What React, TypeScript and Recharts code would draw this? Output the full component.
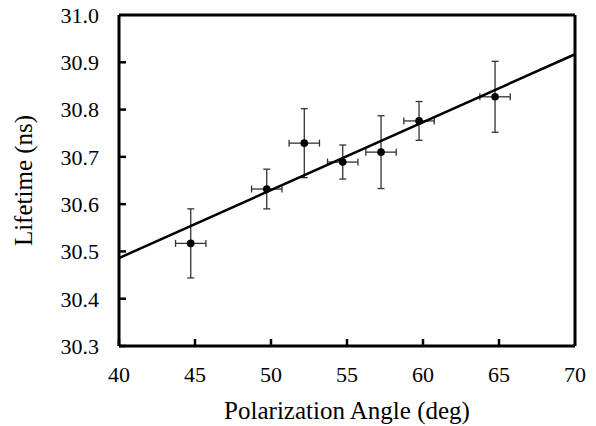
import React from 'react';
import { ScatterChart, Scatter, XAxis, YAxis, ErrorBar, ReferenceLine } from 'recharts';

// measured points
const angles = [44.72, 49.72, 52.19, 54.72, 57.24, 59.74, 64.74];
const angleErr = [1.0, 1.0, 1.0, 1.0, 1.0, 1.0, 1.0];
const lifetimes = [30.517, 30.632, 30.729, 30.689, 30.71, 30.776, 30.827];
const lifetimeErr = [0.073, 0.042, 0.073, 0.036, 0.077, 0.041, 0.075];

// linear fit, read at the plot edges
const fitAngles = [40, 70];
const fitLifetimes = [30.486, 30.917];

const xTicks = [40, 45, 50, 55, 60, 65, 70];
const yTicks = [30.3, 30.4, 30.5, 30.6, 30.7, 30.8, 30.9, 31.0];

const points = angles.map((a, i) => ({
  angle: a,
  lifetime: lifetimes[i],
  xerr: angleErr[i],
  yerr: lifetimeErr[i],
}));
const fit = fitAngles.map((a, i) => ({ angle: a, lifetime: fitLifetimes[i] }));

const FONT = 'Liberation Serif, Times New Roman, serif';
const GAP = 20;
const txt = { fontFamily: FONT, fill: '#000' };

const XTick = (props: any) => {
  const { x, y, payload } = props;
  const ay = y - GAP;
  return (
    <g>
      {payload.value !== 70 && (
        <line x1={x} y1={ay} x2={x} y2={ay - 7} stroke="#000" strokeWidth={2.5} />
      )}
      <text x={x} y={y} dy="0.71em" textAnchor="middle" style={{ ...txt, fontSize: 22 }}>
        {payload.value}
      </text>
    </g>
  );
};

const YTick = (props: any) => {
  const { x, y, payload } = props;
  const ax = x + GAP;
  return (
    <g>
      {payload.value !== 31.0 && (
        <line x1={ax} y1={y} x2={ax + 7} y2={y} stroke="#000" strokeWidth={2.5} />
      )}
      <text x={x} y={y} dy="0.355em" textAnchor="end" style={{ ...txt, fontSize: 22 }}>
        {payload.value.toFixed(1)}
      </text>
    </g>
  );
};

const Dot = (props: any) => <circle cx={props.cx} cy={props.cy} r={3.8} fill="#000" />;
const NoDot = () => <g />;

export default function App() {
  return (
    <div style={{ position: 'absolute', left: 0, top: 0, background: '#fff', fontFamily: FONT }}>
      <ScatterChart width={596} height={426} margin={{ top: 15, right: 21, bottom: 0, left: 0 }}>
        <XAxis
          type="number"
          dataKey="angle"
          domain={[40, 70]}
          ticks={xTicks}
          height={80}
          tickSize={0}
          tickMargin={GAP}
          tick={<XTick />}
          axisLine={{ stroke: '#000', strokeWidth: 3 }}
          tickLine={false}
          label={{
            content: (p: any) => {
              const vb = p.viewBox;
              return (
                <text x={vb.x + vb.width / 2} y={419} textAnchor="middle" style={{ ...txt, fontSize: 25 }}>
                  Polarization Angle (deg)
                </text>
              );
            },
          }}
        />
        <YAxis
          type="number"
          dataKey="lifetime"
          domain={[30.3, 31.0]}
          ticks={yTicks}
          width={119}
          tickSize={0}
          tickMargin={GAP}
          tick={<YTick />}
          axisLine={{ stroke: '#000', strokeWidth: 3 }}
          tickLine={false}
          label={{
            content: (p: any) => {
              const vb = p.viewBox;
              const cy = vb.y + vb.height / 2;
              return (
                <text x={32} y={cy} transform={`rotate(-90 32 ${cy})`} textAnchor="middle" style={{ ...txt, fontSize: 25 }}>
                  Lifetime (ns)
                </text>
              );
            },
          }}
        />
        <ReferenceLine y={31.0} stroke="#000" strokeWidth={3} />
        <ReferenceLine x={70} stroke="#000" strokeWidth={3} />
        <Scatter
          data={fit}
          line={{ stroke: '#000', strokeWidth: 2.5 }}
          shape={<NoDot />}
          isAnimationActive={false}
          legendType="none"
        />
        <Scatter data={points} shape={<Dot />} isAnimationActive={false}>
          <ErrorBar dataKey="yerr" direction="y" width={3.5} stroke="#333" strokeWidth={1.3} />
          <ErrorBar dataKey="xerr" direction="x" width={3.5} stroke="#333" strokeWidth={1.3} />
        </Scatter>
      </ScatterChart>
    </div>
  );
}
